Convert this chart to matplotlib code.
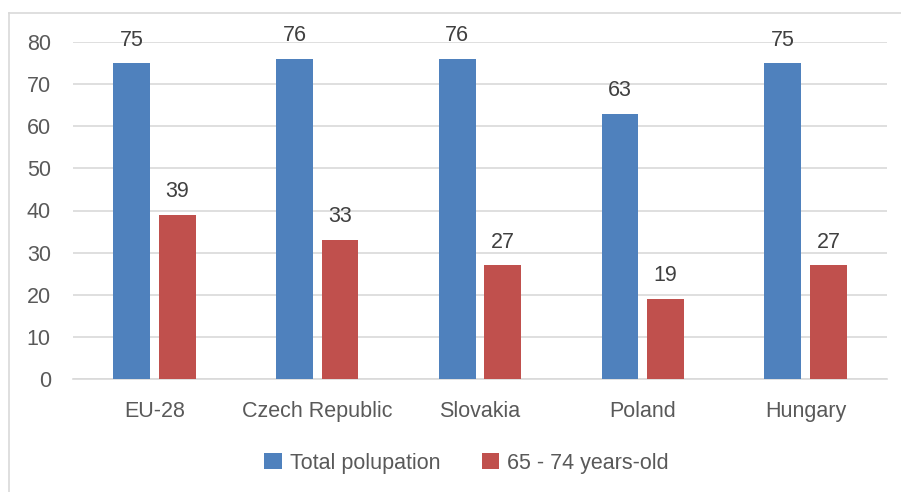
import numpy as np
import matplotlib
matplotlib.use('Agg')
import matplotlib.pyplot as plt
from matplotlib.lines import Line2D

plt.rcParams.update({'font.family': ['Liberation Sans', 'DejaVu Sans'], 'font.size': 15})

COUNTRIES = ['EU-28', 'Czech Republic', 'Slovakia', 'Poland', 'Hungary']
TOTAL = [75, 76, 76, 63, 75]
SENIORS = [39, 33, 27, 19, 27]
SERIES = ['Total polupation', '65 - 74 years-old']

BLUE = '#4F81BD'
RED = '#C0504D'
GRID = '#D9D9D9'
TXT = '#595959'

fig = plt.figure(figsize=(9.01, 4.92), dpi=100)
ax = fig.add_axes([73 / 901, 1 - 379 / 492, (887 - 73) / 901, (379 - 42) / 492])

xs = np.arange(len(COUNTRIES))
width = 0.227
off = 0.14
b1 = ax.bar(xs - off, TOTAL, width, color=BLUE, label=SERIES[0], zorder=3)
b2 = ax.bar(xs + off, SENIORS, width, color=RED, label=SERIES[1], zorder=3)
for bars in (b1, b2):
    for r in bars:
        ax.annotate(f'{r.get_height():g}', (r.get_x() + r.get_width() / 2, r.get_height()),
                    xytext=(0, 9), textcoords='offset points', ha='center', va='bottom',
                    color='#404040', fontsize=15.5)

ax.set_xlim(-0.5, len(COUNTRIES) - 0.5)
ax.set_ylim(0, 80)
ax.set_yticks(range(0, 81, 10))
ax.set_xticks(xs)
ax.set_xticklabels(COUNTRIES)
ax.yaxis.grid(True, color=GRID, lw=1.2, zorder=0)
ax.set_axisbelow(True)
for s in ['top', 'right', 'left']:
    ax.spines[s].set_visible(False)
ax.spines['bottom'].set_color(GRID)
ax.spines['bottom'].set_linewidth(1.2)
ax.tick_params(length=0, colors=TXT, labelsize=15.5)
ax.tick_params(axis='x', pad=16)
ax.tick_params(axis='y', pad=16)

fig.legend(handles=[b1, b2], labels=SERIES, loc='center', bbox_to_anchor=(0.518, 1 - 463 / 492),
           ncol=2, frameon=False, handlelength=0.8, handleheight=0.8, handletextpad=0.4,
           columnspacing=1.9, labelcolor=TXT, fontsize=15.5)

# chart frame (top and left edges visible in the crop)
fig.add_artist(Line2D([9 / 901, 9 / 901], [0, 1 - 13 / 492], transform=fig.transFigure, color=GRID, lw=1.2))
fig.add_artist(Line2D([9 / 901, 1], [1 - 13 / 492, 1 - 13 / 492], transform=fig.transFigure, color=GRID, lw=1.2))

fig.savefig('out.png', dpi=100)
